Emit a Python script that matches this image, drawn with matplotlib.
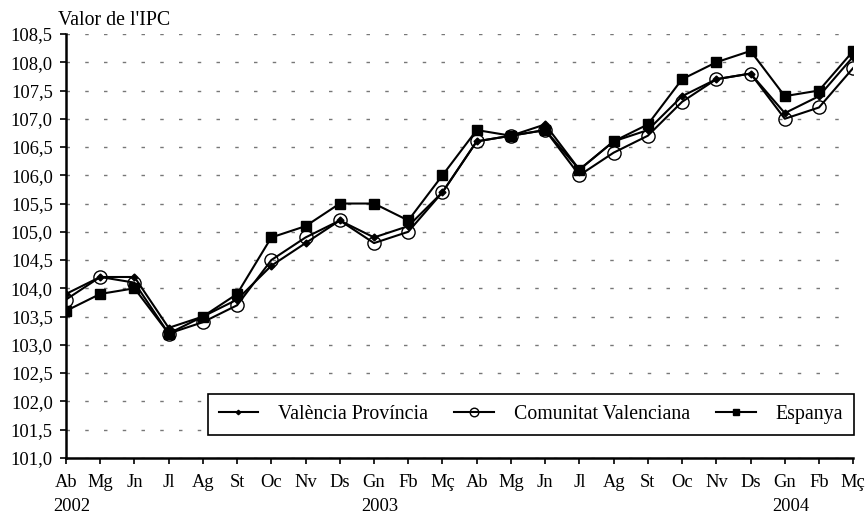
import matplotlib
matplotlib.use('Agg')
import matplotlib.pyplot as plt
from matplotlib.ticker import FuncFormatter
import matplotlib.transforms as mtransforms

months = ['Ab', 'Mg', 'Jn', 'Jl', 'Ag', 'St', 'Oc', 'Nv', 'Ds', 'Gn', 'Fb', 'Mç',
          'Ab', 'Mg', 'Jn', 'Jl', 'Ag', 'St', 'Oc', 'Nv', 'Ds', 'Gn', 'Fb', 'Mç']
years = {0: '2002', 9: '2003', 21: '2004'}

valencia_prov = [103.9, 104.2, 104.2, 103.3, 103.5, 103.8, 104.4, 104.8, 105.2, 104.9, 105.1, 105.7,
                 106.6, 106.7, 106.9, 106.1, 106.6, 106.8, 107.4, 107.7, 107.8, 107.1, 107.4, 108.1]
comunitat = [103.8, 104.2, 104.1, 103.2, 103.4, 103.7, 104.5, 104.9, 105.2, 104.8, 105.0, 105.7,
             106.6, 106.7, 106.8, 106.0, 106.4, 106.7, 107.3, 107.7, 107.8, 107.0, 107.2, 107.9]
espanya = [103.6, 103.9, 104.0, 103.2, 103.5, 103.9, 104.9, 105.1, 105.5, 105.5, 105.2, 106.0,
           106.8, 106.7, 106.8, 106.1, 106.6, 106.9, 107.7, 108.0, 108.2, 107.4, 107.5, 108.2]

plt.rcParams['font.family'] = ['Liberation Serif', 'DejaVu Serif']
plt.rcParams['font.size'] = 13.3

fig = plt.figure(figsize=(8.68, 5.15), dpi=100)
ax = fig.add_axes([0.076, 0.111, 0.907, 0.823])

x = list(range(len(months)))
ax.plot(x, espanya, c='k', lw=1.5, marker='s', ms=7.2, label='Espanya', zorder=3)
ax.plot(x, comunitat, c='k', lw=1.5, marker='o', ms=9.5, mfc='none', mec='k', mew=1.0,
        label='Comunitat Valenciana', zorder=4)
ax.plot(x, valencia_prov, c='k', lw=1.5, marker='D', ms=3.5, label='València Província', zorder=5)

ax.set_xlim(0, len(months) - 1)
ax.set_ylim(101.0, 108.5)
ax.set_yticks([101.0 + 0.5 * i for i in range(16)])
ax.yaxis.set_major_formatter(FuncFormatter(lambda v, p: ('%.1f' % v).replace('.', ',')))
ax.set_xticks(x)
ax.set_xticklabels(months)

ax.grid(axis='y', color='#777777', lw=1.0, linestyle=(0, (2.5, 11)))
ax.set_axisbelow(True)
for s in ['top', 'right']:
    ax.spines[s].set_visible(False)
ax.spines['left'].set_linewidth(1.8)
ax.spines['bottom'].set_linewidth(1.8)
ax.tick_params(axis='both', direction='out', length=4.5, width=1.2, colors='k')
ax.tick_params(axis='x', pad=7)
ax.tick_params(axis='y', pad=5)

trans = mtransforms.blended_transform_factory(ax.transData, fig.transFigure)
for i, yr in years.items():
    ax.text(i - 0.37, 0.016, yr, transform=trans, ha='left', va='center', fontsize=13.3)

fig.text(0.067, 0.961, "Valor de l'IPC", ha='left', va='center', fontsize=14.3)

h, l = ax.get_legend_handles_labels()
leg = ax.legend(h[::-1], l[::-1], ncol=3, loc='lower left',
                bbox_to_anchor=(0.18, 0.054, 0.821, 0.12), mode='expand',
                borderaxespad=0, fancybox=False, edgecolor='k', framealpha=1,
                fontsize=14.3, markerscale=0.65,
                handlelength=2.0, handletextpad=1.0, columnspacing=0.9, borderpad=0.55)
leg.get_frame().set_linewidth(1.2)

fig.savefig('out.png', dpi=100)
